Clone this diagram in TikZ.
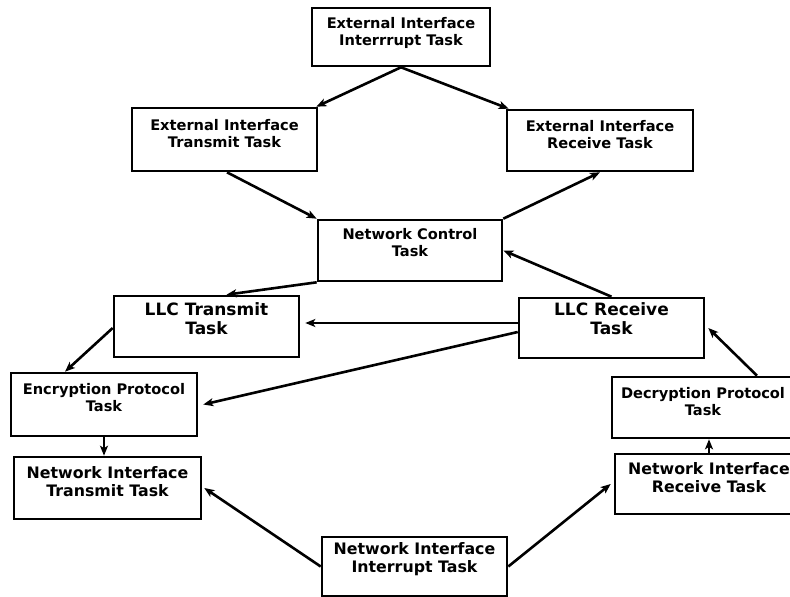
\documentclass[tikz,border=0pt]{standalone}
\usepackage{fontspec}
\setmainfont{DejaVu Sans}
\usetikzlibrary{arrows.meta}
\tikzset{
  box/.style={draw, line width=2.6pt, inner sep=0pt, rectangle},
  txt/.style={align=center, inner sep=0pt, font=\bfseries\fontsize{14.6}{17}\selectfont},
  txtmid/.style={align=center, inner sep=0pt, font=\bfseries\fontsize{15.8}{18}\selectfont},
  txtbig/.style={align=center, inner sep=0pt, font=\bfseries\fontsize{17}{19.5}\selectfont},
  conn/.style={line width=2.6pt, -{Stealth[length=10pt,width=8pt,inset=2.5pt]}}
}
\begin{document}
\begin{tikzpicture}[x=1pt,y=-1pt]
\useasboundingbox (0,0) rectangle (790,597);
\clip (0,0) rectangle (790,597);
% boxes
\node[box, minimum width=178pt, minimum height=58pt] (A) at (401,37) {};
\node[box, minimum width=185pt, minimum height=63pt] (B) at (224.5,139.5) {};
\node[box, minimum width=186pt, minimum height=61pt] (C) at (600,140.5) {};
\node[box, minimum width=184pt, minimum height=61pt] (D) at (410,250.5) {};
\node[box, minimum width=185pt, minimum height=61pt] (E) at (206.5,326.5) {};
\node[box, minimum width=185pt, minimum height=60pt] (F) at (611.5,328) {};
\node[box, minimum width=186pt, minimum height=63pt] (G) at (104,404.5) {};
\node[box, minimum width=184pt, minimum height=61pt] (H) at (704,407.5) {};
\node[box, minimum width=187pt, minimum height=62pt] (I) at (107.5,488) {};
\node[box, minimum width=188pt, minimum height=60pt] (J) at (709,484) {};
\node[box, minimum width=185pt, minimum height=59pt] (K) at (414.5,566.5) {};
% texts
\node[txt] (At) at ([yshift=4pt]A.center) {External Interface\\Interrrupt Task};
\node[txt] (Bt) at ([yshift=6pt]B.center) {External Interface\\Transmit Task};
\node[txt] (Ct) at ([yshift=5.5pt]C.center) {External Interface\\Receive Task};
\node[txt] (Dt) at ([yshift=8pt]D.center) {Network Control\\Task};
\node[txtbig] (Et) at ([yshift=8pt]E.center) {LLC Transmit\\Task};
\node[txtbig] (Ft) at ([yshift=9.5pt]F.center) {LLC Receive\\Task};
\node[txt] (Gt) at ([yshift=6.5pt]G.center) {Encryption Protocol\\Task};
\node[txt] (Ht) at ([xshift=-1pt,yshift=6pt]H.center) {Decryption Protocol\\Task};
\node[txtmid] (It) at ([yshift=6.5pt]I.center) {Network Interface\\Transmit Task};
\node[txtmid] (Jt) at ([yshift=6.5pt]J.center) {Network Interface\\Receive Task};
\node[txtmid] (Kt) at ([yshift=7.5pt]K.center) {Network Interface\\Interrupt Task};
% connectors
\draw[conn] (A.south) -- ([xshift=-2pt]B.north east);
\draw[conn] (A.south) -- ([xshift=3pt]C.north west);
\draw[conn] ([xshift=2.5pt]B.south) -- (D.north west);
\draw[conn] (D.north east) -- (C.south);
\draw[conn] (D.south west) -- ([xshift=20pt]E.north);
\draw[conn] (F.north) -- (D.east);
\draw[conn] ([yshift=5pt]F.west) -- ([xshift=5pt,yshift=3.5pt]E.east);
\draw[conn] ([yshift=-4pt]F.west) -- ([xshift=5pt]G.east);
\draw[conn] ([yshift=-1.5pt]E.west) -- ([xshift=-39pt]G.north);
\draw[conn] (G.south) -- (G.south |- I.north);
\draw[conn] (K.west) -- ([xshift=2pt]I.east);
\draw[conn] (K.east) -- ([xshift=-3pt]J.west);
\draw[conn] (J.north) -- (J.north |- H.south);
\draw[conn] ([xshift=53pt]H.north) -- ([xshift=3pt]F.east);
\end{tikzpicture}
\end{document}
